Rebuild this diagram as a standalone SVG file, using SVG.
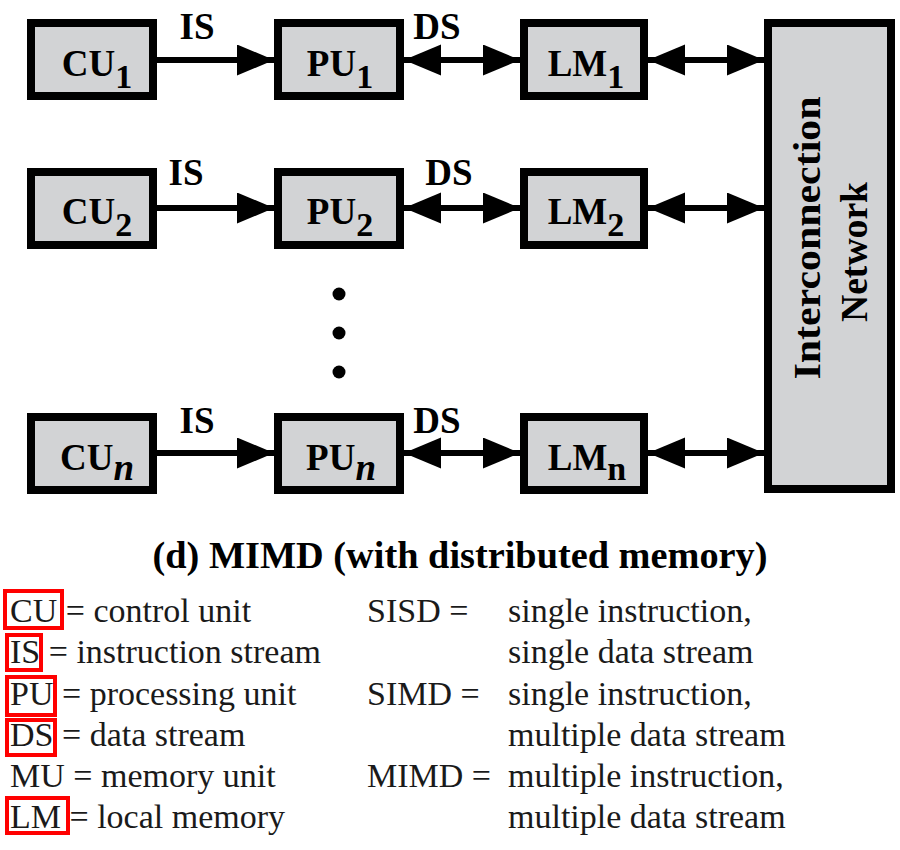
<svg xmlns="http://www.w3.org/2000/svg" width="900" height="850" viewBox="0 0 900 850">
<style>
.box{fill:#d2d3d5;stroke:#000;stroke-width:8}
.lbl{font-family:'Liberation Serif','Times New Roman',Times,'Nimbus Roman','DejaVu Serif',serif;font-weight:bold;font-size:37px;fill:#000}
.sub{font-size:34px}
.it{font-style:italic}
.conn{stroke:#000;stroke-width:6;fill:none}
.leg{font-family:'Liberation Serif','Times New Roman',Times,'Nimbus Roman','DejaVu Serif',serif;font-size:34px;fill:#1a1a1a}
.red{fill:none;stroke:#ff0000;stroke-width:4}
</style>
<defs>
<marker id="ah" markerUnits="userSpaceOnUse" markerWidth="38" markerHeight="32" viewBox="0 0 38 32" refX="37" refY="15.5" orient="auto-start-reverse">
<path d="M0,0 L37,15.5 L0,31 z" fill="#000"/>
</marker>
</defs>
<rect width="900" height="850" fill="#fff"/>
<g id="connectors">
<line class="conn" x1="157" y1="60" x2="274" y2="60" marker-end="url(#ah)"/>
<line class="conn" x1="404" y1="60" x2="520" y2="60" marker-start="url(#ah)" marker-end="url(#ah)"/>
<line class="conn" x1="648" y1="60" x2="764" y2="60" marker-start="url(#ah)" marker-end="url(#ah)"/>
<line class="conn" x1="157" y1="208" x2="274" y2="208" marker-end="url(#ah)"/>
<line class="conn" x1="404" y1="208" x2="520" y2="208" marker-start="url(#ah)" marker-end="url(#ah)"/>
<line class="conn" x1="648" y1="208" x2="764" y2="208" marker-start="url(#ah)" marker-end="url(#ah)"/>
<line class="conn" x1="157" y1="453" x2="274" y2="453" marker-end="url(#ah)"/>
<line class="conn" x1="404" y1="453" x2="520" y2="453" marker-start="url(#ah)" marker-end="url(#ah)"/>
<line class="conn" x1="648" y1="453" x2="764" y2="453" marker-start="url(#ah)" marker-end="url(#ah)"/>
<text class="lbl" x="197" y="39" text-anchor="middle" font-family="Liberation Serif, serif">IS</text>
<text class="lbl" x="437" y="39" text-anchor="middle">DS</text>
<text class="lbl" x="186" y="185" text-anchor="middle">IS</text>
<text class="lbl" x="449" y="185" text-anchor="middle">DS</text>
<text class="lbl" x="197" y="433" text-anchor="middle">IS</text>
<text class="lbl" x="437" y="433" text-anchor="middle">DS</text>
</g>
<g id="cu1"><rect class="box" x="31" y="23" width="122" height="73"/><text class="lbl" x="97" y="76" text-anchor="middle">CU<tspan class="sub" dy="12">1</tspan></text></g>
<g id="pu1"><rect class="box" x="278" y="23" width="122" height="73"/><text class="lbl" x="340" y="76" text-anchor="middle">PU<tspan class="sub" dy="12">1</tspan></text></g>
<g id="lm1"><rect class="box" x="524" y="23" width="120" height="73"/><text class="lbl" x="586" y="76" text-anchor="middle">LM<tspan class="sub" dy="12">1</tspan></text></g>
<g id="cu2"><rect class="box" x="31" y="172" width="122" height="73"/><text class="lbl" x="97" y="224" text-anchor="middle">CU<tspan class="sub" dy="12">2</tspan></text></g>
<g id="pu2"><rect class="box" x="278" y="172" width="122" height="73"/><text class="lbl" x="340" y="224" text-anchor="middle">PU<tspan class="sub" dy="12">2</tspan></text></g>
<g id="lm2"><rect class="box" x="524" y="172" width="120" height="73"/><text class="lbl" x="586" y="224" text-anchor="middle">LM<tspan class="sub" dy="12">2</tspan></text></g>
<g id="dots"><circle cx="339" cy="294" r="6.5"/><circle cx="339" cy="333" r="6.5"/><circle cx="339" cy="372" r="6.5"/></g>
<g id="cun"><rect class="box" x="31" y="417" width="122" height="73"/><text class="lbl" x="97" y="470" text-anchor="middle">CU<tspan class="it" dy="10">n</tspan></text></g>
<g id="pun"><rect class="box" x="278" y="417" width="122" height="73"/><text class="lbl" x="341" y="470" text-anchor="middle">PU<tspan class="it" dy="10">n</tspan></text></g>
<g id="lmn"><rect class="box" x="524" y="417" width="120" height="73"/><text class="lbl" x="587" y="470" text-anchor="middle">LM<tspan class="sub" dy="10">n</tspan></text></g>
<g id="icn"><rect class="box" x="768" y="23" width="123" height="466"/>
<text class="lbl" transform="translate(820,238) rotate(-90)" text-anchor="middle" font-size="38" textLength="283" lengthAdjust="spacingAndGlyphs">Interconnection</text>
<text class="lbl" transform="translate(867,252) rotate(-90)" text-anchor="middle" font-size="38" textLength="140" lengthAdjust="spacingAndGlyphs">Network</text>
</g>
<text id="title" class="lbl" x="460" y="568" text-anchor="middle" textLength="615" lengthAdjust="spacingAndGlyphs">(d) MIMD (with distributed memory)</text>
<g id="legend">
<rect class="red" x="5" y="591" width="57" height="37"/>
<rect class="red" x="7" y="635" width="34" height="35"/>
<rect class="red" x="7" y="677" width="48" height="38"/>
<rect class="red" x="7" y="720" width="48" height="35"/>
<rect class="red" x="7" y="798" width="61" height="35"/>
<text class="leg" x="10" y="622">CU = control unit</text>
<text class="leg" x="10" y="663">IS = instruction stream</text>
<text class="leg" x="10" y="705">PU = processing unit</text>
<text class="leg" x="10" y="746">DS = data stream</text>
<text class="leg" x="10" y="787">MU = memory unit</text>
<text class="leg" x="10" y="828">LM = local memory</text>
<text class="leg" x="367" y="622">SISD =</text>
<text class="leg" x="367" y="705">SIMD =</text>
<text class="leg" x="367" y="787">MIMD =</text>
<text class="leg" x="508" y="622">single instruction,</text>
<text class="leg" x="508" y="663">single data stream</text>
<text class="leg" x="508" y="705">single instruction,</text>
<text class="leg" x="508" y="746">multiple data stream</text>
<text class="leg" x="508" y="787">multiple instruction,</text>
<text class="leg" x="508" y="828">multiple data stream</text>
</g>
</svg>
